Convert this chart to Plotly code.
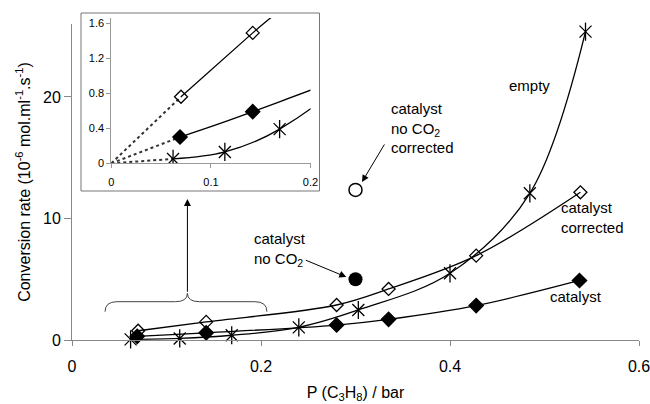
import plotly.graph_objects as go

# ---- data (P in bar, rate in 1e-6 mol/ml/s) ----
empty_p = [0.062, 0.114, 0.169, 0.240, 0.303, 0.400, 0.4845, 0.5434]
empty_r = [0.05, 0.13, 0.39, 1.04, 2.47, 5.49, 12.07, 25.37]

corr_p = [0.070, 0.142, 0.280, 0.335, 0.4277, 0.538]
corr_r = [0.76, 1.49, 2.88, 4.20, 6.94, 12.15]

cat_p = [0.069, 0.142, 0.280, 0.335, 0.4277, 0.537]
cat_r = [0.30, 0.59, 1.23, 1.70, 2.83, 4.90]

noco2_p = [0.300]
noco2_r = [5.0]
noco2corr_p = [0.300]
noco2corr_r = [12.35]

x_ticks = [0, 0.2, 0.4, 0.6]
x_ticklabels = ["0", "0.2", "0.4", "0.6"]
y_ticks = [0, 10, 20]
inset_x_ticks = [0, 0.1, 0.2]
inset_x_labels = ["0", "0.1", "0.2"]
inset_y_ticks = [0, 0.4, 0.8, 1.2, 1.6]
inset_y_labels = ["0", "0.4", "0.8", "1.2", "1.6"]

FONT = "Arial, Liberation Sans, sans-serif"
LINE = dict(color="black", width=1.3, shape="spline", smoothing=1.0)

# pixel helpers (for decorations only)
def px(x):
    return (x - 72) / 944.0

def py(y):
    return (340 - y) / 12.15

fig = go.Figure()

def add_series(xs, ys, symbol, size, xa="x", ya="y", extra_ns=False):
    clip = True if xa == "x2" else False
    fig.add_trace(go.Scatter(
        x=xs, y=ys, mode="lines+markers", xaxis=xa, yaxis=ya,
        line=LINE, cliponaxis=clip,
        marker=dict(symbol=symbol, size=size, color="black",
                    line=dict(color="black", width=1.3)),
        showlegend=False, hoverinfo="skip"))
    if extra_ns:
        fig.add_trace(go.Scatter(
            x=xs, y=ys, mode="markers", xaxis=xa, yaxis=ya, cliponaxis=clip,
            marker=dict(symbol="line-ns-open", size=size + 1, color="black",
                        line=dict(color="black", width=1.3)),
            showlegend=False, hoverinfo="skip"))

# main plot
add_series(empty_p, empty_r, "x-thin-open", 12, extra_ns=True)
add_series(corr_p, corr_r, "diamond-open", 10)
add_series(cat_p, cat_r, "diamond", 11)

fig.add_trace(go.Scatter(x=noco2_p, y=noco2_r, mode="markers", cliponaxis=False,
                         marker=dict(symbol="circle", size=14, color="black"),
                         showlegend=False, hoverinfo="skip"))
fig.add_trace(go.Scatter(x=noco2corr_p, y=noco2corr_r, mode="markers", cliponaxis=False,
                         marker=dict(symbol="circle-open", size=13, color="black",
                                     line=dict(color="black", width=1.5)),
                         showlegend=False, hoverinfo="skip"))

# inset: dotted lines from origin to first points
for xs, ys in [(empty_p, empty_r), (corr_p, corr_r), (cat_p, cat_r)]:
    fig.add_trace(go.Scatter(x=[0, xs[0]], y=[0, ys[0]], mode="lines",
                             xaxis="x2", yaxis="y2",
                             line=dict(color="#333", width=2, dash="dot"),
                             showlegend=False, hoverinfo="skip"))
add_series(empty_p, empty_r, "x-thin-open", 12, xa="x2", ya="y2", extra_ns=True)
add_series(corr_p, corr_r, "diamond-open", 10, xa="x2", ya="y2")
add_series(cat_p, cat_r, "diamond", 11, xa="x2", ya="y2")

W, H = 650, 404
L, R, T, B = 72, 11, 10, 64
pw, ph = W - L - R, H - T - B

def fx(x):
    return (x - L) / pw

def fy(y):
    return (H - B - y) / ph

axis_common = dict(showline=True, linecolor="#888", linewidth=1, ticks="outside",
                   tickcolor="#888", showgrid=False, zeroline=False, automargin=False,
                   ticklabeloverflow="allow",
                   tickfont=dict(family=FONT, size=16, color="black"))

fig.update_layout(
    template="none",
    width=W, height=H,
    margin=dict(l=L, r=R, t=T, b=B, autoexpand=False),
    plot_bgcolor="white", paper_bgcolor="white",
    font=dict(family=FONT, size=15, color="black"),
    xaxis=dict(range=[0, 0.6], tickvals=x_ticks, ticktext=x_ticklabels, ticklen=5,
               ticklabelstandoff=7,
               title=dict(text="P (C<sub>3</sub>H<sub>8</sub>) / bar",
                          font=dict(family=FONT, size=16), standoff=12),
               **axis_common),
    yaxis=dict(range=[0, 26], domain=[0, fy(24)], tickvals=y_ticks, ticklen=7,
               title=dict(text="Conversion rate (10<sup>-6</sup> mol.ml<sup>-1</sup>.s<sup>-1</sup>)",
                          font=dict(family=FONT, size=16), standoff=8),
               **axis_common),
    xaxis2=dict(range=[0, 0.2], domain=[fx(111.3), fx(310.5)], anchor="y2",
                tickvals=inset_x_ticks, ticktext=inset_x_labels, ticklen=4,
                showline=True, linecolor="#999", tickcolor="#999", ticks="outside",
                showgrid=False, zeroline=False, ticklabelstandoff=4, automargin=False,
                tickfont=dict(family=FONT, size=11, color="black")),
    yaxis2=dict(range=[0, 1.66], domain=[fy(163.3), fy(18)], anchor="x2",
                tickvals=inset_y_ticks, ticktext=inset_y_labels, ticklen=4,
                showline=True, linecolor="#999", tickcolor="#999", ticks="outside",
                showgrid=False, zeroline=False, automargin=False,
                tickfont=dict(family=FONT, size=11, color="black")),
)

# inset frame
fig.add_shape(type="rect", xref="paper", yref="paper",
              x0=fx(81), x1=fx(319.5), y0=fy(191), y1=fy(13),
              line=dict(color="#777", width=1), fillcolor="white", layer="below")

# curly brace
xl, xr, xm = px(105), px(266.7), px(187.3)
yb, yt, yc = py(311.7), py(301.7), py(293.3)
r = px(72 + 12) - px(72)
brace = (f"M {xl},{yb} Q {xl},{yt} {xl + r},{yt} L {xm - r},{yt} "
         f"Q {xm},{yt} {xm},{yc} Q {xm},{yt} {xm + r},{yt} "
         f"L {xr - r},{yt} Q {xr},{yt} {xr},{yb}")
fig.add_shape(type="path", xref="x", yref="y", path=brace,
              line=dict(color="#444", width=1))

ann = []
def text(x, y, t, xanchor="left"):
    ann.append(dict(x=px(x), y=py(y), xref="x", yref="y", text=t, showarrow=False,
                    xanchor=xanchor, yanchor="middle", align="left",
                    font=dict(family=FONT, size=15, color="black")))

def arrow(tipx, tipy, tailx, taily, head=2, size=1.4):
    ann.append(dict(x=px(tipx), y=py(tipy), xref="x", yref="y", text="",
                    showarrow=True, arrowhead=head, arrowsize=size, arrowwidth=1,
                    arrowcolor="black", ax=tailx - tipx, ay=taily - tipy))

text(389, 128, "catalyst<br>no CO<sub>2</sub><br>corrected")
arrow(361.7, 182, 385, 143)
text(252, 250, "catalyst<br>no CO<sub>2</sub>")
arrow(346, 277, 304, 259.6)
text(528.7, 86, "empty", xanchor="center")
text(558, 217.5, "catalyst<br>corrected")
text(575, 297, "catalyst", xanchor="center")
arrow(187.3, 199, 187.3, 293.3)

fig.update_layout(annotations=ann)

fig.write_html("out.html", config={"displayModeBar": False},
               post_script="document.body.style.margin='0px';document.body.style.padding='0px';")
